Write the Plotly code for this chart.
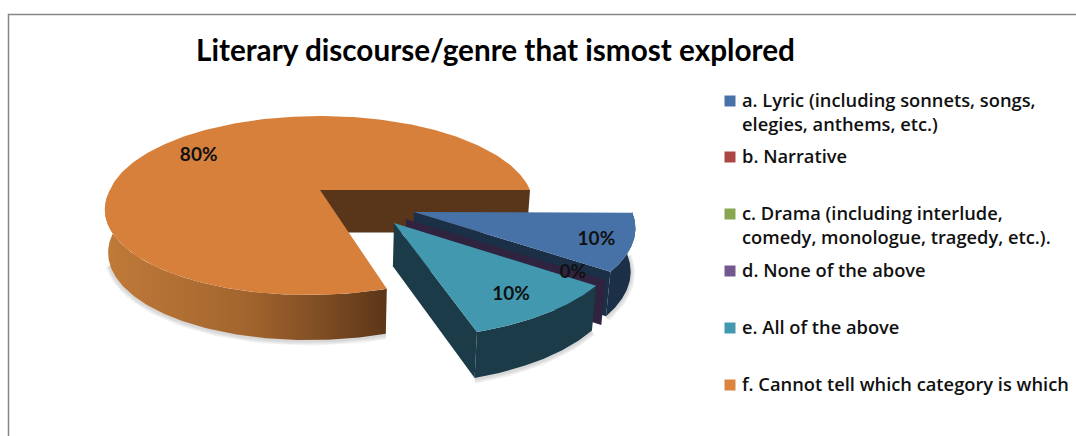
import math
import plotly.graph_objects as go

# ---- data ----
categories = ["a. Lyric (including sonnets, songs,<br>elegies, anthems, etc.)", "b. Narrative",
              "c. Drama (including interlude,<br>comedy, monologue, tragedy, etc.).",
              "d. None of the above", "e. All of the above", "f. Cannot tell which category is which"]
values = [10, 0, 0, 0, 10, 80]
shown_labels = ["10%", "", "", "0%", "10%", "80%"]
title_text = "Literary discourse/genre that ismost explored"
top_colors = ["#4672A8", "#AA4643", "#89A54E", "#71588F", "#4198AF", "#D7803C"]
legend_colors = ["#4672A8", "#AA4643", "#89A54E", "#71588F", "#4198AF", "#DB843D"]
wall_colors = ["#1B2F46", "#45201F", "#38431F", "#2F2340", "#1A3B47", "#59351A"]

# ---- layout of the 3-D projection (pixels) ----
CX, CY, RX, RY, K = 320, 190, 210, 86.8, 0.173
SHIFT = [(94, 22), (90, 26), (88, 27), (86, 29), (74, 33), (0, 0)]
LEGEND_Y = [101, 157, 214, 271, 328, 385]
LABEL_F = [0.84, 0, 0, 0.85, 0.79, 0.77]


def proj(deg, f=1.0):
    u, v = f * math.cos(math.radians(deg)), f * math.sin(math.radians(deg))
    s = 1 / (1 + K * v)
    return RX * u * s, -RY * v * s


def arc(a0, a1, n=80):
    return [a0 + (a1 - a0) * i / n for i in range(n + 1)]


def drop(x, y):
    d = 42.5 + (y - CY) * 0.025
    return CX + (x - CX) * 0.985, y + d


def poly(pts, color):
    xs, ys = zip(*pts)
    return go.Scatter(x=list(xs) + [xs[0]], y=list(ys) + [ys[0]], mode="lines", fill="toself",
                      fillcolor=color, line=dict(width=0, color=color), hoverinfo="skip", showlegend=False)


total = sum(values)
spans, a = [], 0.0
for val in values:
    spans.append((a, a - val / total * 360))
    a -= val / total * 360


def place(i, deg, f=1.0):
    px, py = proj(deg, f)
    if i == 5:
        y = CY + py
        return CX + px - 0.11 * max(0.0, y - CY), y
    vm = abs(math.sin(math.radians(sum(spans[i]) / 2)))
    scale = 1.02 + 0.06 * vm
    return CX + SHIFT[i][0] + px * scale, CY + SHIFT[i][1] + py * scale * (1 + 0.04 * vm)


fig = go.Figure()

# soft shadows below the walls
orange_rim = [place(5, -d) for d in arc(180, 72, 120)]
shadow_rims = [[drop(*p) for p in orange_rim[22:]]]
for i in [0, 4]:
    shadow_rims.append([drop(*place(i, d)) for d in arc(*spans[i])])
for w in (9, 6, 3):
    for r in shadow_rims:
        xs, ys = zip(*r)
        fig.add_trace(go.Scatter(x=xs, y=[v + 1 for v in ys], mode="lines", hoverinfo="skip", showlegend=False,
                                 line=dict(width=w, color="rgba(80,80,80,0.08)")))

# slice f: inner wall, outer wall with gradient, top
a0, a1 = spans[5]
fig.add_trace(poly([(CX, CY), place(5, 0), drop(*place(5, 0)), drop(CX, CY)], wall_colors[5]))
wall = orange_rim + [drop(*p) for p in reversed(orange_rim)]
xs, ys = zip(*wall)
fig.add_trace(go.Scatter(x=list(xs) + [xs[0]], y=list(ys) + [ys[0]], mode="lines", fill="toself",
                         line=dict(width=0), hoverinfo="skip", showlegend=False,
                         fillgradient=dict(type="horizontal",
                                           colorscale=[[0, "#C07A39"], [0.5, "#A3652E"],
                                                       [0.8, "#7A4A22"], [1, "#5C3618"]])))
fig.add_trace(poly([(CX, CY)] + [place(5, d) for d in arc(a0, a1, 240)], top_colors[5]))

# exploded slices, back to front
for i in [0, 3, 4]:
    a0, a1 = spans[i]
    apex = place(i, 0, 0)
    end = place(i, a1)
    fig.add_trace(poly([apex, end, drop(*end), drop(*apex)], wall_colors[i]))
    if values[i] > 0:
        r = [place(i, d) for d in arc(a0, a1)]
        fig.add_trace(poly(r + [drop(*p) for p in reversed(r)], wall_colors[i]))
        fig.add_trace(poly([apex] + r, top_colors[i]))

# data labels
lx, ly, lt = [], [], []
for i, t in enumerate(shown_labels):
    if t:
        x, y = place(i, sum(spans[i]) / 2, LABEL_F[i])
        lx.append(x); ly.append(y + 3); lt.append(t)
fig.add_trace(go.Scatter(x=lx, y=ly, text=lt, mode="text", textposition="middle center",
                         textfont=dict(family="Lato", size=19, color="#111111", weight=700),
                         hoverinfo="skip", showlegend=False))

# legend
fig.add_trace(go.Scatter(x=[730] * 6, y=LEGEND_Y, mode="markers", showlegend=False, hoverinfo="skip",
                         marker=dict(symbol="square", size=11, color=legend_colors)))
annotations = []
for cat, y in zip(categories, LEGEND_Y):
    annotations.append(dict(x=741, y=y - 15, xref="x", yref="y", text=cat, showarrow=False, xanchor="left",
                            yanchor="top", align="left", borderpad=0,
                            font=dict(family="Open Sans", size=18.3, color="#111111", weight=600)))
annotations.append(dict(x=495, y=49, xref="x", yref="y", text=title_text, showarrow=False,
                        font=dict(family="Lato", size=29.7, color="#000000", weight=700)))

fig.update_layout(
    width=1076, height=436, margin=dict(l=0, r=0, t=0, b=0), paper_bgcolor="white", plot_bgcolor="white",
    showlegend=False, annotations=annotations,
    xaxis=dict(range=[0, 1076], visible=False, fixedrange=True),
    yaxis=dict(range=[436, 0], visible=False, fixedrange=True),
    shapes=[dict(type="rect", x0=8.5, y0=14.5, x1=1090, y1=450, line=dict(color="#868686", width=1.5), layer="below")],
)
fig.write_html("out.html", config=dict(displayModeBar=False),
               post_script="document.body.style.margin='0';")
